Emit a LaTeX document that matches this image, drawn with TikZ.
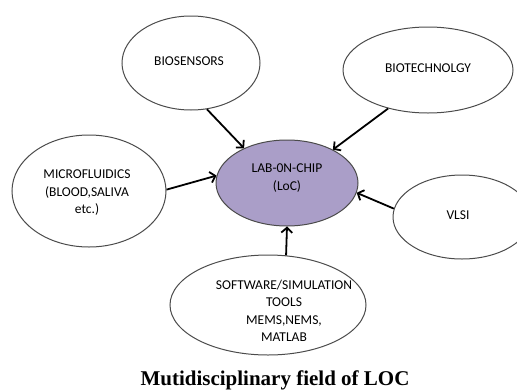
\documentclass[tikz,border=0pt]{standalone}
\usepackage{fontspec}
\setmainfont{Carlito}
\newfontfamily\titlefont{Liberation Serif}
\usetikzlibrary{shapes.geometric,arrows.meta}
\definecolor{locfill}{RGB}{170,158,200}
\definecolor{edgegray}{RGB}{75,75,75}
\tikzset{
  oval/.style={ellipse, draw=edgegray, line width=1pt, inner sep=0pt},
  lbl/.style={align=center, font=\fontsize{13.5}{17.5}\selectfont, text=black},
  arr/.style={line width=1.8pt, -{Straight Barb[length=5pt,width=11pt,line width=1.8pt]}, black}
}
\begin{document}
\begin{tikzpicture}[x=1pt,y=-1pt]
\useasboundingbox (0,0) rectangle (517,389);
% ellipses
\node[oval, minimum width=138pt, minimum height=94pt] (bios) at (191,63) {};
\node[oval, minimum width=170pt, minimum height=86pt] (biot) at (428,70) {};
\node[oval, minimum width=154pt, minimum height=112pt] (micro) at (89,191) {};
\node[oval, fill=locfill, minimum width=142pt, minimum height=86pt] (loc) at (287,183) {};
\node[oval, minimum width=138pt, minimum height=84pt] (vlsi) at (462,217) {};
\node[oval, minimum width=196pt, minimum height=100pt] (soft) at (268,305) {};
% labels
\node[lbl] (biost) at (189,61) {BIOSENSORS};
\node[lbl] (biott) at (428,68) {BIOTECHNOLGY};
\node[lbl] (microt) at (87,193) {MICROFLUIDICS\\(BLOOD,SALIVA\\etc.)};
\node[lbl] (loct) at (287,178) {LAB-0N-CHIP\\(LoC)};
\node[lbl] (vlsit) at (458,215) {VLSI};
\node[lbl] (softt) at (284,311) {SOFTWARE/SIMULATION\\TOOLS\\MEMS,NEMS,\\MATLAB};
% arrows
\draw[arr] (bios.-71) -- (loc.141);
\draw[arr] (biot.-136) -- (loc.36);
\draw[arr] (micro.1) -- (loc.174);
\draw[arr] (vlsi.173) -- (loc.-8);
\draw[arr] (soft.70) -- (loc.-90);
% title
\node[anchor=base, font=\titlefont\bfseries\fontsize{21}{24}\selectfont] (title) at (275,385) {Mutidisciplinary field of LOC};
\end{tikzpicture}
\end{document}
